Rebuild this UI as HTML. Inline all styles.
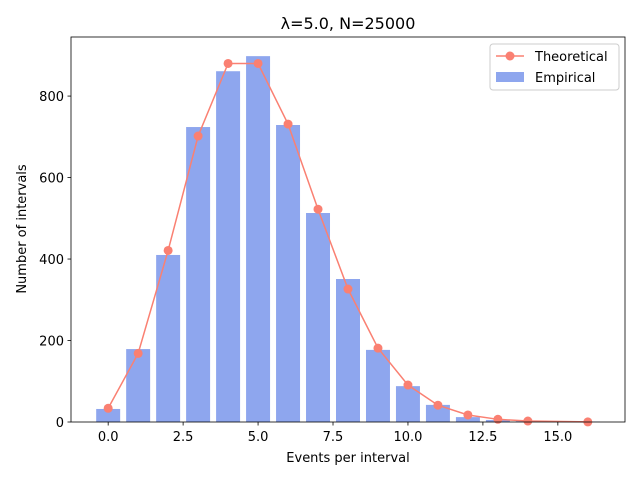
<!DOCTYPE html>
<html><head><meta charset="utf-8"><style>
body{margin:0;background:#fff;font-family:"DejaVu Sans","Liberation Sans",sans-serif;}
svg text{font-family:"DejaVu Sans","Liberation Sans",sans-serif;fill:#000;}
</style></head><body>
<svg id="chart" width="640" height="480">
<rect x="0" y="0" width="640" height="480" fill="#fff"/>
<g id="bars"></g><g id="line"></g><g id="axes"></g>
<text x="348" y="29" font-size="16" text-anchor="middle">λ=5.0, N=25000</text>
<text x="348" y="462" font-size="13" text-anchor="middle">Events per interval</text>
<text x="26" y="229" font-size="13" text-anchor="middle" transform="rotate(-90 26 229)">Number of intervals</text>
<g>
<rect x="490" y="44" width="129" height="46" rx="3" fill="#fff" stroke="#ccc"/>
<line x1="496" y1="56" x2="524" y2="56" stroke="#fa8072" stroke-width="1.5"/>
<circle cx="510" cy="56" r="4.5" fill="#fa8072"/>
<text x="535" y="61" font-size="13">Theoretical</text>
<rect x="496" y="72" width="28" height="10" fill="#8ea6ee"/>
<text x="535" y="82" font-size="13">Empirical</text>
</g>
</svg>
<script>
const categories=[0,1,2,3,4,5,6,7,8,9,10,11,12,13,14,15,16];
const empirical=[32,179,410,724,861,898,729,513,351,177,88,42,12,5,2,1,1];
const theoKs=[0,1,2,3,4,5,6,7,8,9,10,11,12,13,14,16];
const theoretical=[33.7,168.4,421.1,701.9,880,880,731.2,522.3,326.4,181.3,90.7,41.2,17.2,6.6,2.4,0.2];
const xTicks=[0,2.5,5,7.5,10,12.5,15];
const xTickLabels=["0.0","2.5","5.0","7.5","10.0","12.5","15.0"];
const yTicks=[0,200,400,600,800];
const L=71,R=625,T=37,B=422;
const xmin=-1.24,xmax=17.24,ymax=945;
const X=v=>L+(v-xmin)/(xmax-xmin)*(R-L);
const Y=v=>B-v/ymax*(B-T);
const NS="http://www.w3.org/2000/svg";
function mk(tag,attrs,parent){const e=document.createElementNS(NS,tag);for(const k in attrs)e.setAttribute(k,attrs[k]);parent.appendChild(e);return e;}
const gb=document.getElementById('bars'),gl=document.getElementById('line'),ga=document.getElementById('axes');
categories.forEach((c,i)=>{const r=mk('rect',{x:X(c-0.4),y:Y(empirical[i]),width:X(c+0.4)-X(c-0.4),height:B-Y(empirical[i]),fill:'#8ea6ee'},gb);

});
const pl=mk('polyline',{points:theoKs.map((k,i)=>X(k)+','+Y(theoretical[i])).join(' '),fill:'none',stroke:'#fa8072','stroke-width':1.5},gl);


theoKs.forEach((k,i)=>{const c=mk('circle',{cx:X(k),cy:Y(theoretical[i]),r:4.5,fill:'#fa8072'},gl);

});
const fr=mk('rect',{x:L,y:T,width:R-L,height:B-T,fill:'none',stroke:'#000','stroke-width':0.8},ga);


xTicks.forEach((t,i)=>{mk('line',{x1:X(t),x2:X(t),y1:B,y2:B+3.5,stroke:'#000','stroke-width':0.8},ga);
const tx=mk('text',{x:X(t),y:B+19,'font-size':13,'text-anchor':'middle'},ga);tx.textContent=xTickLabels[i];

});
yTicks.forEach(t=>{mk('line',{x1:L-3.5,x2:L,y1:Y(t),y2:Y(t),stroke:'#000','stroke-width':0.8},ga);
const tx=mk('text',{x:L-7,y:Y(t)+5,'font-size':13,'text-anchor':'end'},ga);tx.textContent=t;

});
</script>
</body></html>
